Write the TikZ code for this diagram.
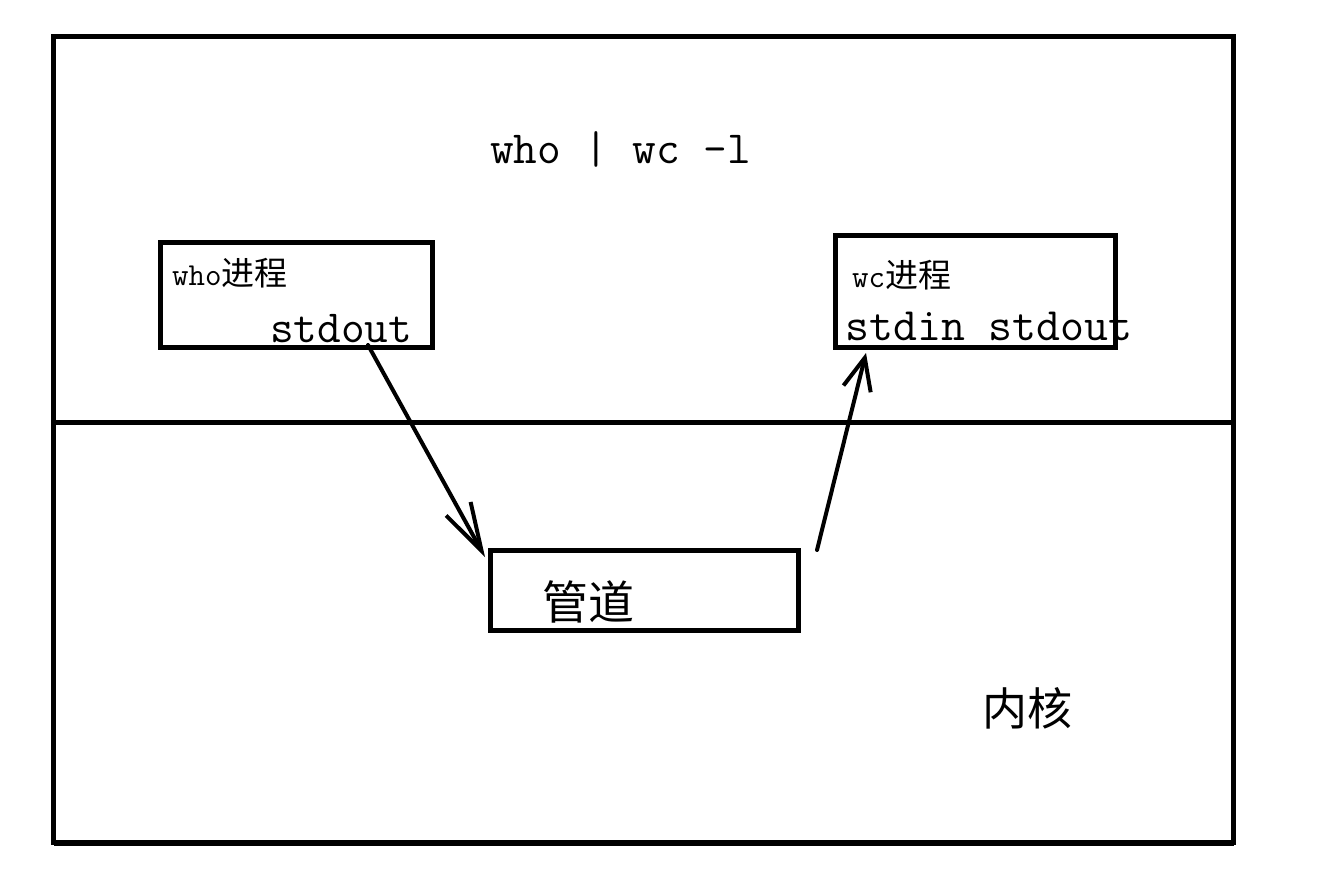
\documentclass[tikz,border=0pt]{standalone}
\usepackage{fontspec}
\newfontfamily\cjk{Noto Sans CJK SC}
\usetikzlibrary{arrows.meta}
\begin{document}
\begin{tikzpicture}[x=1pt,y=-1pt,
  box/.style={draw,line width=5pt,inner sep=0pt},
  lbl/.style={inner sep=0pt,anchor=base west},
  arr/.style={line width=4pt,line cap=round}]
\useasboundingbox (0,0) rectangle (1327,879);
\node[draw,line width=5.5pt,minimum width=1180pt,minimum height=806pt,inner sep=0pt] (outer) at (643.5,439.5) {};
\coordinate (bl) at (53.5,843);
\coordinate (br) at (1233.5,843);
\draw[line width=6pt] (bl) -- (br);
\coordinate (dl) at (55,422.5);
\coordinate (dr) at (1233,422.5);
\draw[line width=5pt] (dl) -- (dr);
\node[box,minimum width=272pt,minimum height=105pt] (who) at (296,294.5) {};
\node[box,minimum width=280pt,minimum height=112pt] (wc) at (975,291) {};
\node[box,minimum width=308pt,minimum height=80pt] (pipe) at (644,590) {};
% texts
\node[lbl] (title) at (490,163) {\fontsize{46}{50}\selectfont\ttfamily who | wc -l};
\node[lbl] (whol) at (172,285) {\fontsize{32}{34}\selectfont\ttfamily who\cjk\fontsize{33}{34}\selectfont 进程};
\node[lbl] (whoout) at (270,342) {\fontsize{46}{48}\selectfont\ttfamily stdout};
\node[lbl] (wcl) at (852,287) {\fontsize{32}{34}\selectfont\ttfamily wc\cjk\fontsize{33}{34}\selectfont 进程};
\node[lbl] (wcio) at (845,340) {\fontsize{46.5}{48}\selectfont\ttfamily stdin stdout};
\node[inner sep=0pt] (pipel) at (588,602) {\cjk\fontsize{46}{50}\selectfont 管道};
\node[inner sep=0pt] (kern) at (1027,708) {\cjk\fontsize{45}{50}\selectfont 内核};
% arrows
\coordinate (a1s) at (368,345);
\coordinate (a1e) at (485,557);
\coordinate (a2s) at (817,550);
\coordinate (a2e) at (866,353);
\draw[arr,-{Straight Barb[length=48pt,width=28pt]}] (a1s) -- (a1e);
\draw[arr,-{Straight Barb[length=32pt,width=28pt]}] (a2s) -- (a2e);
\end{tikzpicture}
\end{document}
